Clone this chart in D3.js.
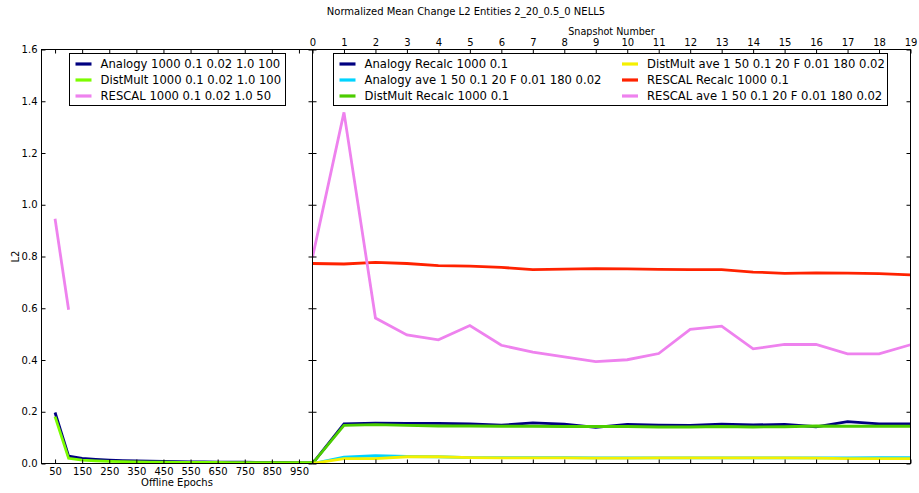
<!DOCTYPE html>
<html>
<head>
<meta charset="utf-8">
<script src="https://cdn.jsdelivr.net/npm/d3@7"></script>
<style>
  html, body { margin: 0; padding: 0; background: #fff; }
  svg text { font-family: "DejaVu Sans", sans-serif; fill: #000; }
</style>
</head>
<body>
<svg id="chart" width="919" height="493"></svg>
<script>
// ---- data ----
const offlineEpochs = [50, 100, 150, 200, 250, 300, 350, 400, 450, 500, 550, 600, 650, 700, 750, 800, 850, 900, 950, 1000];
const offlineAnalogy = [0.197, 0.028, 0.020, 0.016, 0.013, 0.011, 0.010, 0.009, 0.008, 0.007, 0.006, 0.006, 0.005, 0.005, 0.005, 0.004, 0.004, 0.004, 0.003, 0.003];
const offlineDistMult = [0.181, 0.020, 0.013, 0.010, 0.008, 0.007, 0.006, 0.005, 0.005, 0.004, 0.004, 0.004, 0.004, 0.003, 0.003, 0.003, 0.003, 0.003, 0.003, 0.003];
const offlineRescalEpochs = [50, 100];
const offlineRescal = [0.946, 0.594];
const offlineTicks = [50, 150, 250, 350, 450, 550, 650, 750, 850, 950];

const snapshots = d3.range(0, 20);
const analogyRecalc = [0, 0.153, 0.156, 0.155, 0.155, 0.153, 0.148, 0.157, 0.152, 0.140, 0.151, 0.148, 0.147, 0.152, 0.149, 0.151, 0.142, 0.162, 0.153, 0.153];
const analogyAve = [0, 0.025, 0.030, 0.027, 0.026, 0.023, 0.023, 0.023, 0.023, 0.022, 0.022, 0.022, 0.022, 0.022, 0.022, 0.022, 0.022, 0.022, 0.023, 0.023];
const distmultRecalc = [0, 0.147, 0.150, 0.147, 0.145, 0.145, 0.144, 0.144, 0.143, 0.143, 0.143, 0.141, 0.141, 0.143, 0.141, 0.142, 0.145, 0.144, 0.144, 0.144];
const distmultAve = [0, 0.019, 0.019, 0.026, 0.026, 0.023, 0.022, 0.022, 0.022, 0.021, 0.021, 0.022, 0.022, 0.022, 0.022, 0.022, 0.021, 0.019, 0.019, 0.019];
const rescalRecalc = [0.773, 0.771, 0.777, 0.773, 0.765, 0.763, 0.758, 0.749, 0.751, 0.753, 0.752, 0.750, 0.749, 0.749, 0.740, 0.735, 0.737, 0.736, 0.734, 0.729];
const rescalAve = [0.797, 1.357, 0.562, 0.497, 0.478, 0.533, 0.457, 0.430, 0.412, 0.394, 0.401, 0.425, 0.518, 0.531, 0.443, 0.460, 0.460, 0.424, 0.424, 0.459];

const yTicks = [0.0, 0.2, 0.4, 0.6, 0.8, 1.0, 1.2, 1.4, 1.6];

const offlineSeries = [
  { name: "Analogy 1000 0.1 0.02 1.0 100", color: "#000080", x: offlineEpochs, y: offlineAnalogy },
  { name: "DistMult 1000 0.1 0.02 1.0 100", color: "#7cfc00", x: offlineEpochs, y: offlineDistMult },
  { name: "RESCAL 1000 0.1 0.02 1.0 50", color: "#ee82ee", x: offlineRescalEpochs, y: offlineRescal }
];
const onlineSeries = [
  { name: "Analogy Recalc 1000 0.1", color: "#000080", y: analogyRecalc },
  { name: "Analogy ave 1 50 0.1 20 F 0.01 180 0.02", color: "#00d4ff", y: analogyAve },
  { name: "DistMult Recalc 1000 0.1", color: "#4ccc00", y: distmultRecalc },
  { name: "DistMult ave 1 50 0.1 20 F 0.01 180 0.02", color: "#f5f000", y: distmultAve },
  { name: "RESCAL Recalc 1000 0.1", color: "#ff2200", y: rescalRecalc },
  { name: "RESCAL ave 1 50 0.1 20 F 0.01 180 0.02", color: "#ee82ee", y: rescalAve }
];

// ---- layout ----
const svg = d3.select("#chart");
const plotTop = 49.5, plotBottom = 463.5;
const leftX0 = 41.5, splitX = 312.5, rightX1 = 910.5;
const lineW = 2.8;

const y = d3.scaleLinear().domain([0, 1.6]).range([plotBottom, plotTop]);
const xOff = d3.scaleLinear().domain([0, 1000]).range([leftX0, splitX]);
const xSnap = d3.scaleLinear().domain([0, 19]).range([splitX, rightX1]);

// title
svg.append("text").attr("x", 466).attr("y", 15).attr("text-anchor", "middle")
  .attr("font-size", 10).text("Normalized Mean Change L2 Entities 2_20_0.5_0 NELL5");

// clip paths for each panel
const defs = svg.append("defs");
defs.append("clipPath").attr("id", "clipL").append("rect")
  .attr("x", leftX0).attr("y", plotTop).attr("width", splitX - leftX0).attr("height", plotBottom - plotTop);
defs.append("clipPath").attr("id", "clipR").append("rect")
  .attr("x", splitX).attr("y", plotTop).attr("width", rightX1 - splitX).attr("height", plotBottom - plotTop);

// ---- left panel (offline epochs) ----
const gL = svg.append("g").attr("clip-path", "url(#clipL)");
offlineSeries.forEach(s => {
  const line = d3.line().x((d, i) => xOff(s.x[i])).y(d => y(d));
  gL.append("path").datum(s.y).attr("d", line).attr("fill", "none")
    .attr("stroke", s.color).attr("stroke-width", lineW).attr("stroke-linejoin", "miter");
});

// ---- right panel (snapshots) ----
const gR = svg.append("g").attr("clip-path", "url(#clipR)");
onlineSeries.forEach(s => {
  const line = d3.line().x((d, i) => xSnap(snapshots[i])).y(d => y(d));
  gR.append("path").datum(s.y).attr("d", line).attr("fill", "none")
    .attr("stroke", s.color).attr("stroke-width", lineW).attr("stroke-linejoin", "miter");
});

// ---- axes (inward ticks on all sides) ----
const tk = 4, pad = 4;
function styleAxis(g) {
  g.select(".domain").remove();
  g.selectAll(".tick line").attr("stroke", "#000").attr("stroke-width", 1);
  g.selectAll(".tick text").attr("font-size", 10).attr("font-family", "DejaVu Sans");
}

// left panel y-axis labels
svg.append("g").attr("transform", `translate(${leftX0},0)`)
  .call(d3.axisLeft(y).tickValues(yTicks).tickFormat(d3.format(".1f")).tickSizeInner(-tk).tickSizeOuter(0).tickPadding(pad))
  .call(styleAxis);
// left panel right-side y ticks
svg.append("g").attr("transform", `translate(${splitX},0)`)
  .call(d3.axisRight(y).tickValues(yTicks).tickFormat("").tickSizeInner(-tk).tickSizeOuter(0))
  .call(styleAxis);
// left panel bottom axis
svg.append("g").attr("transform", `translate(0,${plotBottom})`)
  .call(d3.axisBottom(xOff).tickValues(offlineTicks).tickFormat(d3.format("d")).tickSizeInner(-tk).tickSizeOuter(0).tickPadding(pad))
  .call(styleAxis);
// left panel top ticks
svg.append("g").attr("transform", `translate(0,${plotTop})`)
  .call(d3.axisTop(xOff).tickValues(offlineTicks).tickFormat("").tickSizeInner(-tk).tickSizeOuter(0))
  .call(styleAxis);

// right panel top axis with labels
svg.append("g").attr("transform", `translate(0,${plotTop})`)
  .call(d3.axisTop(xSnap).tickValues(snapshots).tickFormat(d3.format("d")).tickSizeInner(-tk).tickSizeOuter(0).tickPadding(pad))
  .call(styleAxis);
// right panel bottom ticks
svg.append("g").attr("transform", `translate(0,${plotBottom})`)
  .call(d3.axisBottom(xSnap).tickValues(snapshots).tickFormat("").tickSizeInner(-tk).tickSizeOuter(0))
  .call(styleAxis);
// right panel left ticks
svg.append("g").attr("transform", `translate(${splitX},0)`)
  .call(d3.axisLeft(y).tickValues(yTicks).tickFormat("").tickSizeInner(-tk).tickSizeOuter(0))
  .call(styleAxis);
// right panel right ticks
svg.append("g").attr("transform", `translate(${rightX1},0)`)
  .call(d3.axisRight(y).tickValues(yTicks).tickFormat("").tickSizeInner(-tk).tickSizeOuter(0))
  .call(styleAxis);

// frames
[[leftX0, splitX], [splitX, rightX1]].forEach(([a, b]) => {
  svg.append("rect").attr("x", a).attr("y", plotTop).attr("width", b - a).attr("height", plotBottom - plotTop)
    .attr("fill", "none").attr("stroke", "#000").attr("stroke-width", 1);
});

// axis titles
svg.append("text").attr("x", (leftX0 + splitX) / 2).attr("y", 486).attr("text-anchor", "middle")
  .attr("font-size", 10).text("Offline Epochs");
svg.append("text").attr("x", (splitX + rightX1) / 2).attr("y", 35).attr("text-anchor", "middle")
  .attr("font-size", 9.6).text("Snapshot Number");
svg.append("text").attr("transform", `translate(19,${(plotTop + plotBottom) / 2}) rotate(-90)`)
  .attr("text-anchor", "middle").attr("font-size", 10).text("L2");

// ---- legends ----
function legend(items, x0, y0, w, h, colX, rowH) {
  const g = svg.append("g");
  g.append("rect").attr("x", x0).attr("y", y0).attr("width", w).attr("height", h)
    .attr("fill", "#fff").attr("stroke", "#000").attr("stroke-width", 1);
  items.forEach((s, i) => {
    const col = Math.floor(i / 3), row = i % 3;
    const lx = x0 + colX[col], ly = y0 + 10.5 + row * rowH;
    g.append("line").attr("x1", lx).attr("x2", lx + 16).attr("y1", ly).attr("y2", ly)
      .attr("stroke", s.color).attr("stroke-width", lineW + 0.4);
    g.append("text").attr("x", lx + 25).attr("y", ly + 4.3).attr("font-size", 11.6).text(s.name);
  });
}
legend(offlineSeries, 69.5, 53.5, 216, 52, [6], 16);
legend(onlineSeries, 333.5, 53.5, 554, 52, [6, 288.5], 16);
</script>
</body>
</html>
